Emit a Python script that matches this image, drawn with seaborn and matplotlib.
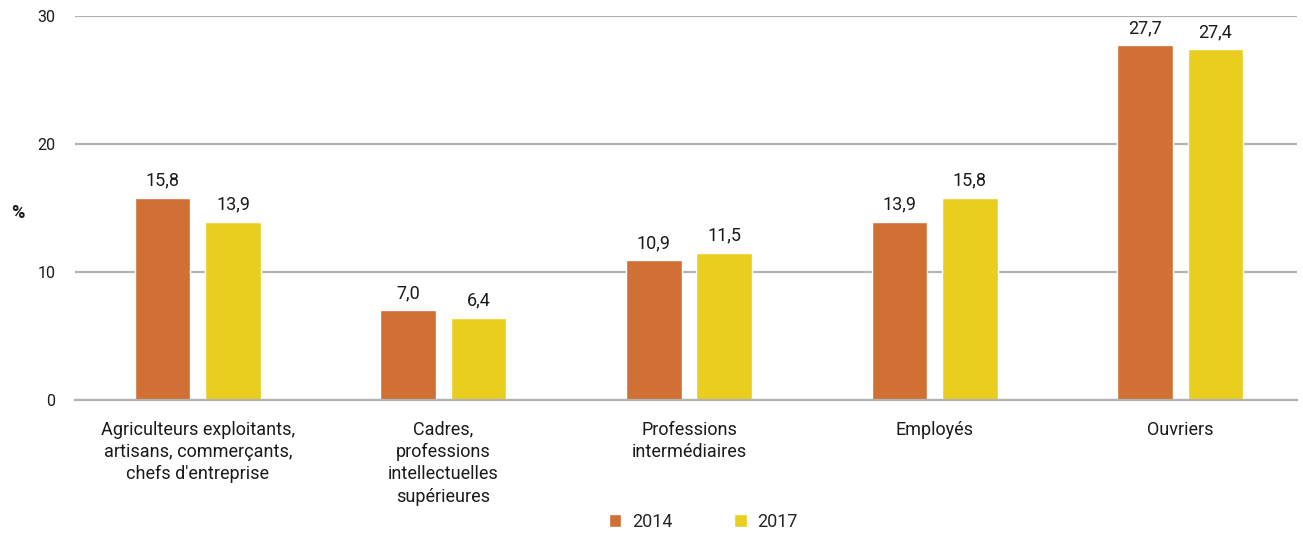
import matplotlib
matplotlib.use('Agg')
import matplotlib.pyplot as plt
import seaborn as sns
import pandas as pd

categories = [
    "Agriculteurs exploitants,\nartisans, commerçants,\nchefs d'entreprise",
    "Cadres,\nprofessions\nintellectuelles\nsupérieures",
    "Professions\nintermédiaires",
    "Employés",
    "Ouvriers",
]
years = ['2014', '2017']
values_2014 = [15.8, 7.0, 10.9, 13.9, 27.7]
values_2017 = [13.9, 6.4, 11.5, 15.8, 27.4]
colors = ['#D07034', '#E9CE1F']

df = pd.DataFrame({
    'category': categories * 2,
    'year': [years[0]] * len(categories) + [years[1]] * len(categories),
    'value': values_2014 + values_2017,
})

sns.set_style('white')
plt.rcParams['font.family'] = ['Roboto', 'DejaVu Sans']
text_color = '#1a1a1a'

fig = plt.figure(figsize=(13.03, 5.33), dpi=100)
ax = fig.add_axes([0.0576, 0.2495, 0.9378, 0.7205])

sns.barplot(data=df, x='category', y='value', hue='year', palette=colors,
            saturation=1, width=0.573, gap=0.21, ax=ax, legend=True)

for container in ax.containers:
    labels = [f'{v:.1f}'.replace('.', ',') for v in container.datavalues]
    ax.bar_label(container, labels=labels, padding=6, fontsize=13, color=text_color)

ax.set_ylim(0, 30)
ax.set_yticks([0, 10, 20, 30])
ax.set_xlim(-0.5, len(categories) - 0.5 - 0.024)
ax.yaxis.grid(True, color='#b3b3b3', linewidth=1.6)
ax.set_axisbelow(True)
for side in ['left', 'right', 'top']:
    ax.spines[side].set_visible(False)
ax.spines['bottom'].set_color('#b3b3b3')
ax.spines['bottom'].set_linewidth(1.6)
ax.tick_params(axis='y', length=0, pad=14, labelsize=11.5, labelcolor=text_color)
ax.tick_params(axis='x', length=0, pad=15, labelsize=13, labelcolor=text_color)
for lbl in ax.get_xticklabels():
    lbl.set_linespacing(1.3)
ax.set_xlabel('')
ax.set_ylabel('')
fig.text(0.0138, 0.60, '%', fontsize=13, fontweight='bold', ha='center', va='center',
         color=text_color)

handles, labels = ax.get_legend_handles_labels()
ax.legend(handles, labels, loc='center', bbox_to_anchor=(0.514, -0.317), ncol=2,
          frameon=False, handlelength=0.7, handleheight=0.7, handletextpad=0.6,
          columnspacing=3.4, fontsize=13)

fig.savefig('out.png', dpi=100)
